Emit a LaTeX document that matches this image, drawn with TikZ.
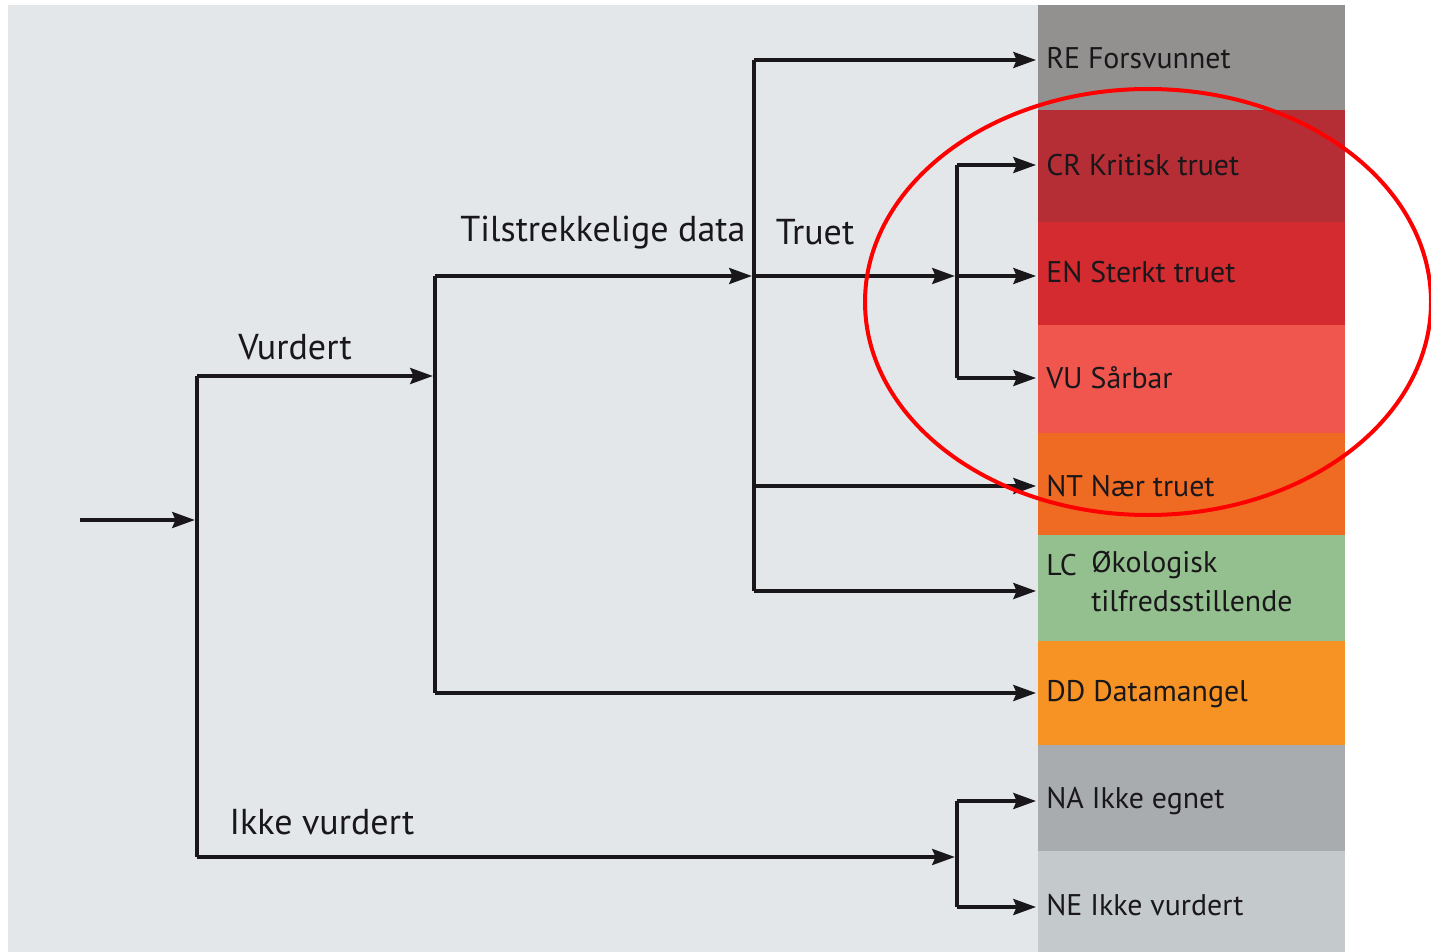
\documentclass[tikz,border=0pt]{standalone}
\usepackage{fontspec}
\setmainfont{PT Sans}
\usetikzlibrary{arrows.meta}
\definecolor{bg}{HTML}{E3E7EA}
\definecolor{cRE}{HTML}{93918F}
\definecolor{cCR}{HTML}{B52D35}
\definecolor{cEN}{HTML}{D32B2F}
\definecolor{cVU}{HTML}{F0554E}
\definecolor{cNT}{HTML}{EF6B24}
\definecolor{cLC}{HTML}{94C08F}
\definecolor{cDD}{HTML}{F69324}
\definecolor{cNA}{HTML}{A8ACAF}
\definecolor{cNE}{HTML}{C4C9CC}
\definecolor{ink}{HTML}{1A171B}
\begin{document}
\begin{tikzpicture}[x=0.75pt,y=-0.75pt,
  conn/.style={draw=ink,line width=2.5pt},
  arr/.style={conn,-{Stealth[length=17pt,width=12pt,inset=2.5pt]}},
  bandtxt/.style={anchor=west,inner sep=0pt,text=ink,font=\fontsize{22.4}{27}\selectfont},
  lbl/.style={inner sep=0pt,text=ink,font=\fontsize{27}{32}\selectfont}]
\useasboundingbox (0,0) rectangle (1431,952);
\fill[bg] (8,5) rectangle (1038,952);
% bands
\fill[cRE] (1038,5) rectangle (1345,110);
\fill[cCR] (1038,110) rectangle (1345,222);
\fill[cEN] (1038,222) rectangle (1345,325);
\fill[cVU] (1038,325) rectangle (1345,433);
\fill[cNT] (1038,433) rectangle (1345,535);
\fill[cLC] (1038,535) rectangle (1345,641);
\fill[cDD] (1038,641) rectangle (1345,745);
\fill[cNA] (1038,745) rectangle (1345,851);
\fill[cNE] (1038,851) rectangle (1345,952);
% band texts
\node[bandtxt] (re) at (1046,58) {RE Forsvunnet};
\node[bandtxt] (cr) at (1046,165) {CR Kritisk truet};
\node[bandtxt] (en) at (1046,272) {EN Sterkt truet};
\node[bandtxt] (vu) at (1046,378) {VU Sårbar};
\node[bandtxt] (nt) at (1046,486) {NT Nær truet};
\node[bandtxt] (lc) at (1046,565) {LC};
\node[bandtxt] (lct1) at (1091,565) {Økologisk};
\node[bandtxt] (lct2) at (1091,601) {tilfredsstillende};
\node[bandtxt] (dd) at (1046,694) {DD Datamangel};
\node[bandtxt] (na) at (1046,801) {NA Ikke egnet};
\node[bandtxt] (ne) at (1046,905) {NE Ikke vurdert};
% junction coordinates
\coordinate (start) at (80,520);
\coordinate (j1) at (197,520);
\coordinate (j1t) at (197,376);
\coordinate (j1b) at (197,857);
\coordinate (j2) at (435,376);
\coordinate (j2t) at (435,276);
\coordinate (j2b) at (435,693);
\coordinate (j3) at (754,276);
\coordinate (j3t) at (754,60);
\coordinate (j3n) at (754,486);
\coordinate (j3b) at (754,591);
\coordinate (j4) at (957,276);
\coordinate (j4t) at (957,165);
\coordinate (j4b) at (957,378);
\coordinate (j5) at (957,857);
\coordinate (j5t) at (957,801);
\coordinate (j5b) at (957,907);
% ends at band edge
\coordinate (ere) at (1036,60);
\coordinate (ecr) at (1036,165);
\coordinate (een) at (1036,276);
\coordinate (evu) at (1036,378);
\coordinate (ent) at (1036,486);
\coordinate (elc) at (1036,591);
\coordinate (edd) at (1036,693);
\coordinate (ena) at (1036,801);
\coordinate (ene) at (1036,907);
% connectors
\draw[arr] (start) -- ([xshift=-1.6pt]j1);
\draw[conn] (j1t) -- (j1b);
\draw[arr] (j1t) -- ([xshift=-1.6pt]j2);
\draw[arr] (j1b) -- ([xshift=-1.6pt]j5);
\draw[conn] (j2t) -- (j2b);
\draw[arr] (j2t) -- ([xshift=-1.6pt]j3);
\draw[arr] (j2b) -- (edd);
\draw[conn] (j3t) -- (j3b);
\draw[arr] (j3t) -- (ere);
\draw[arr] (j3) -- ([xshift=-1.6pt]j4);
\draw[arr] (j3n) -- (ent);
\draw[arr] (j3b) -- (elc);
\draw[conn] (j4t) -- (j4b);
\draw[arr] (j4t) -- (ecr);
\draw[arr] (j4) -- (een);
\draw[arr] (j4b) -- (evu);
\draw[conn] (j5t) -- (j5b);
\draw[arr] (j5t) -- (ena);
\draw[arr] (j5b) -- (ene);
% labels
\node[lbl] (vurdert) at (295,347) {Vurdert};
\node[lbl] (ikke) at (322,822) {Ikke vurdert};
\node[lbl] (tilstr) at (603,233) {Tilstrekkelige data};
\node[lbl] (truet) at (815,232) {Truet};
% red ellipse
\draw[red,line width=3pt] (1148,302) ellipse [x radius=283, y radius=213];
\end{tikzpicture}
\end{document}
